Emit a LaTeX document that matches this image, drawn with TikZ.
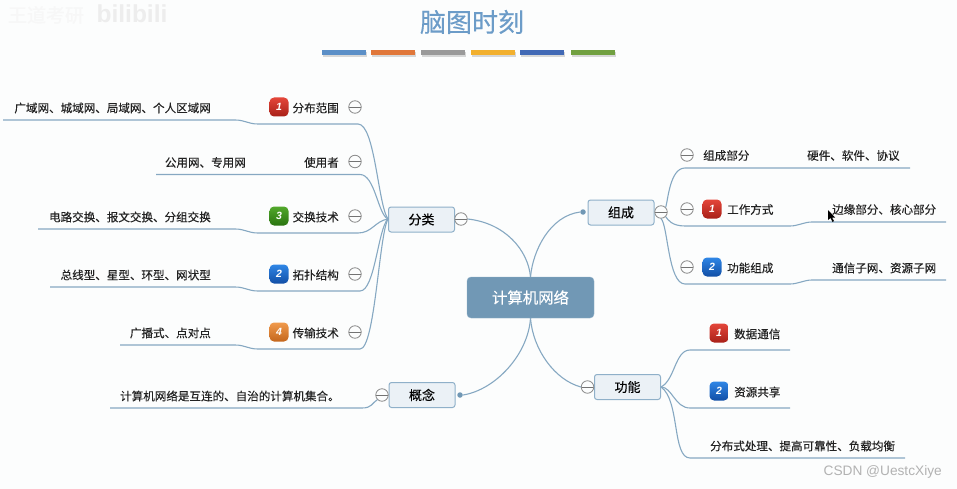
\documentclass[tikz,border=0pt]{standalone}
\usepackage{fontspec}
\setmainfont{Noto Sans CJK SC}
\newfontfamily\heavyfont[FakeBold=0.25]{Noto Sans CJK SC}
\newfontfamily\latinfont{Liberation Sans}
\usetikzlibrary{shadows}

\definecolor{paper}{HTML}{FCFDFD}
\definecolor{titleblue}{HTML}{6C9CC8}
\definecolor{rootblue}{HTML}{7198B5}
\definecolor{boxfill}{HTML}{EBF1F6}
\definecolor{boxline}{HTML}{8FB0C9}
\definecolor{wire}{HTML}{86A8C2}
\definecolor{leaftext}{HTML}{222222}
\definecolor{barone}{HTML}{5B8FC7}
\definecolor{bartwo}{HTML}{E0773A}
\definecolor{barthree}{HTML}{9A9A9A}
\definecolor{barfour}{HTML}{F2B02E}
\definecolor{barfive}{HTML}{4169B5}
\definecolor{barsix}{HTML}{71A040}
\definecolor{redtop}{HTML}{E4463A}
\definecolor{redlow}{HTML}{A82018}
\definecolor{greentop}{HTML}{52A82C}
\definecolor{greenlow}{HTML}{2A7410}
\definecolor{bluetop}{HTML}{2F86E6}
\definecolor{bluelow}{HTML}{124FA6}
\definecolor{orangetop}{HTML}{F09A4C}
\definecolor{orangelow}{HTML}{C4661C}

\tikzset{
  rootbox/.style={draw=boxline, fill=rootblue, text=white, rounded corners=4pt, minimum width=127pt, minimum height=41pt, inner sep=0pt, font=\heavyfont\fontsize{15.4}{16}\selectfont},
  topicbox/.style={draw=boxline, line width=1pt, fill=boxfill, text=black, rounded corners=2.5pt, minimum width=66pt, minimum height=25pt, inner sep=0pt, font=\heavyfont\fontsize{13}{13}\selectfont},
  minusbox/.style={circle, draw=black!45, fill=paper, line width=0.8pt, minimum size=12.5pt, inner sep=0pt, path picture={\draw[black!55, line width=0.8pt] (path picture bounding box.west) -- (path picture bounding box.east);}},
  dotbox/.style={circle, fill=rootblue, minimum size=5.5pt, inner sep=0pt},
  leaf/.style={text=leaftext, inner sep=0pt, font=\heavyfont\fontsize{11.55}{12}\selectfont},
  wireline/.style={draw=wire, line width=1.1pt},
  badgebox/.style={rounded corners=4.5pt, minimum size=19pt, inner sep=0pt, text=white, font=\latinfont\bfseries\itshape\fontsize{10.5}{11}\selectfont},
  redbadge/.style={badgebox, top color=redtop, bottom color=redlow},
  greenbadge/.style={badgebox, top color=greentop, bottom color=greenlow},
  bluebadge/.style={badgebox, top color=bluetop, bottom color=bluelow},
  orangebadge/.style={badgebox, top color=orangetop, bottom color=orangelow},
  colorbar/.style={fill=#1, drop shadow={shadow xshift=0.6pt, shadow yshift=-1.6pt, opacity=0.3}},
}

\begin{document}
\begin{tikzpicture}[x=1pt, y=-1pt]

\fill[paper] (0,0) rectangle (957,489);
\useasboundingbox (0,0) rectangle (957,489);

% title and bars
\node[text=titleblue, inner sep=0pt, font=\heavyfont\fontsize{26}{26}\selectfont] (title) at (472,22) {脑图时刻};
\path[colorbar=barone] (322,50) rectangle (366,55);
\path[colorbar=bartwo] (371,50) rectangle (415,55);
\path[colorbar=barthree] (421,50) rectangle (465,55);
\path[colorbar=barfour] (471,50) rectangle (515,55);
\path[colorbar=barfive] (520,50) rectangle (564,55);
\path[colorbar=barsix] (571,50) rectangle (615,55);

% watermarks
\node[text=black!3, inner sep=0pt, font=\heavyfont\fontsize{19}{19}\selectfont] (mark) at (46,15) {王道考研};
\node[text=black!7, inner sep=0pt, font=\latinfont\bfseries\fontsize{24.5}{25}\selectfont] (bili) at (132,14) {bilibili};
\node[text=black!30, inner sep=0pt, anchor=east, font=\latinfont\fontsize{13.7}{14}\selectfont] (csdn) at (942,472) {CSDN @UestcXiye};

% centre and main topics
\node[rootbox] (root) at (530.5,297.5) {计算机网络};
\node[topicbox] (fenlei) at (421.5,219.5) {分类};
\node[topicbox] (zucheng) at (621,212.5) {组成};
\node[topicbox] (gongneng) at (627.5,387) {功能};
\node[topicbox] (gainian) at (422,395) {概念};

\coordinate (fenleiIn) at (388,219);

% leaf ends
\coordinate (a1) at (258,124);
\coordinate (a0) at (3,120);
\coordinate (b1) at (360,174.5);
\coordinate (b0) at (156,174.5);
\coordinate (c1) at (258,233);
\coordinate (c0) at (38,229);
\coordinate (d1) at (258,291);
\coordinate (d0) at (50,287);
\coordinate (e1) at (258,349);
\coordinate (e0) at (120,345);
\coordinate (f0) at (110,408);
\coordinate (g1) at (910,168);
\coordinate (h1) at (946,222);
\coordinate (i1) at (946,280);
\coordinate (j1) at (790,350);
\coordinate (k1) at (790,408);
\coordinate (l1) at (905,458);

\node[minusbox] (fenleiM) at (461,219) {};
\node[minusbox] (zuchengM) at (661,212) {};
\node[minusbox] (gongnengM) at (587.5,387) {};
\node[minusbox] (gainianM) at (382,395) {};
\node[dotbox] (zuchengD) at (583,212) {};
\node[dotbox] (gainianD) at (460,395) {};

% root wires
\draw[wireline] (root.north) .. controls (528,250) and (505,223) .. (fenleiM.east);
\draw[wireline] (root.north) .. controls (533,250) and (550,216) .. (zuchengD.west);
\draw[wireline] (root.south) .. controls (528,355) and (495,390) .. (gainianD.east);
\draw[wireline] (root.south) .. controls (533,350) and (555,380) .. (gongnengM.west);

% left wires
\draw[wireline] (fenleiIn) .. controls (378,205) and (375,124) .. (358,124) -- (a1) .. controls (248,124) and (245,120) .. (235,120) -- (a0);
\draw[wireline] (fenleiIn) .. controls (378,215) and (375,174.5) .. (b1) -- (b0);
\draw[wireline] (fenleiIn) .. controls (375,221) and (372,233) .. (358,233) -- (c1) .. controls (248,233) and (245,229) .. (235,229) -- (c0);
\draw[wireline] (fenleiIn) .. controls (378,228) and (375,291) .. (360,291) -- (d1) .. controls (248,291) and (245,287) .. (235,287) -- (d0);
\draw[wireline] (fenleiIn) .. controls (379,235) and (375,349) .. (360,349) -- (e1) .. controls (248,349) and (245,345) .. (235,345) -- (e0);
\draw[wireline] (gainianM.south west) .. controls (372,403) and (372,408) .. (362,408) -- (f0);

% right wires
\draw[wireline] (zuchengM.north east) .. controls (668,200) and (670,168) .. (685,168) -- (g1);
\draw[wireline] (zuchengM.south east) .. controls (668,220) and (672,226) .. (685,226) -- (790,226) .. controls (798,226) and (804,222) .. (812,222) -- (h1);
\draw[wireline] (zuchengM.south) .. controls (668,225) and (668,284) .. (685,284) -- (790,284) .. controls (798,284) and (804,280) .. (812,280) -- (i1);
\draw[wireline] (gongneng.east) .. controls (675,380) and (675,350) .. (690,350) -- (j1);
\draw[wireline] (gongneng.east) .. controls (672,387) and (675,408) .. (690,408) -- (k1);
\draw[wireline] (gongneng.east) .. controls (680,400) and (672,458) .. (690,458) -- (l1);

% left leaves
\node[redbadge] (n1) at (279,107) {1};
\node[leaf, anchor=east] (fanwei) at (339,108) {分布范围};
\node[minusbox] (fanweiM) at (355,107) {};
\node[leaf, anchor=east] (fanweiT) at (211,108) {广域网、城域网、局域网、个人区域网};

\node[leaf, anchor=east] (yonghu) at (339,162.5) {使用者};
\node[minusbox] (yonghuM) at (355,161.5) {};
\node[leaf, anchor=east] (yonghuT) at (246,162.5) {公用网、专用网};

\node[greenbadge] (n3) at (279,216) {3};
\node[leaf, anchor=east] (jiaohuan) at (339,217) {交换技术};
\node[minusbox] (jiaohuanM) at (355,216) {};
\node[leaf, anchor=east] (jiaohuanT) at (211,217) {电路交换、报文交换、分组交换};

\node[bluebadge] (n2) at (279,274) {2};
\node[leaf, anchor=east] (tuopu) at (339,275) {拓扑结构};
\node[minusbox] (tuopuM) at (355,274) {};
\node[leaf, anchor=east] (tuopuT) at (211,275) {总线型、星型、环型、网状型};

\node[orangebadge] (n4) at (279,332) {4};
\node[leaf, anchor=east] (chuanshu) at (339,333) {传输技术};
\node[minusbox] (chuanshuM) at (355,332) {};
\node[leaf, anchor=east] (chuanshuT) at (211,333) {广播式、点对点};

\node[leaf, anchor=west] (gainianT) at (120,396) {计算机网络是互连的、自治的计算机集合。};

% right leaves
\node[minusbox] (bufenM) at (687,155) {};
\node[leaf, anchor=west] (bufen) at (703,155.5) {组成部分};
\node[leaf, anchor=west] (bufenT) at (807,155.5) {硬件、软件、协议};

\node[minusbox] (fangshiM) at (687,209) {};
\node[redbadge] (m1) at (712,209) {1};
\node[leaf, anchor=west] (fangshi) at (727,209.5) {工作方式};
\node[leaf, anchor=west] (fangshiT) at (832,209.5) {边缘部分、核心部分};

\node[minusbox] (zuchengN) at (687,267) {};
\node[bluebadge] (m2) at (712,267) {2};
\node[leaf, anchor=west] (gongnengZ) at (727,268) {功能组成};
\node[leaf, anchor=west] (gongnengT) at (832,268) {通信子网、资源子网};

\node[redbadge] (k1n) at (719,333) {1};
\node[leaf, anchor=west] (tongxin) at (734,334) {数据通信};
\node[bluebadge] (k2n) at (719,391) {2};
\node[leaf, anchor=west] (gongxiang) at (734,392) {资源共享};
\node[leaf, anchor=west] (qita) at (710,446) {分布式处理、提高可靠性、负载均衡};

% mouse pointer
\fill[black] (828,210) -- (828,220) -- (830.5,218) -- (832.5,222) -- (834,221) -- (832,217.5) -- (835,217.5) -- cycle;

\end{tikzpicture}
\end{document}
